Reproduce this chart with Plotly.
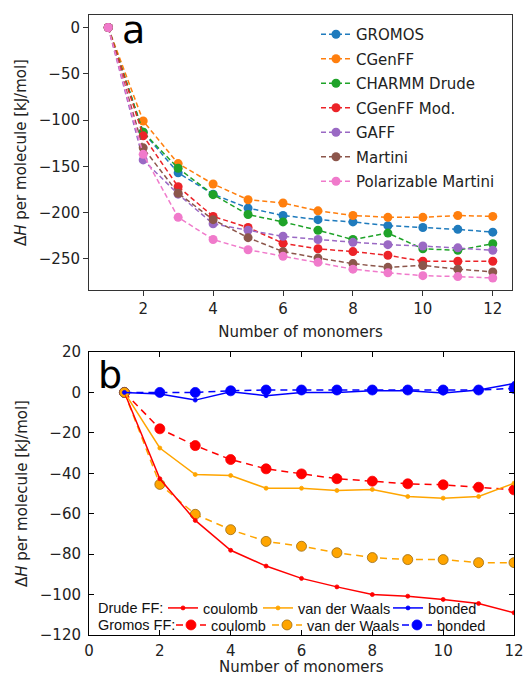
import plotly.graph_objects as go

# ---------------- data ----------------
monomers = list(range(1, 13))

# panel a : total Delta H per molecule [kJ/mol]
gromos      = [0, -113, -157, -180, -195, -203, -207.5, -210, -214, -216, -218, -221]
cgenff      = [0, -101, -147, -169, -186, -189.5, -198, -203, -205, -205, -203, -204]
charmm_drude = [0, -113, -152, -180.5, -202, -210, -219, -229, -222, -239, -240.6, -233.5]
cgenff_mod  = [0, -117, -172, -204, -216, -233, -239, -242, -246, -252.5, -252.5, -252.5]
gaff        = [0, -143, -180, -212, -219, -225.5, -229, -232, -234.5, -236, -238, -240.6]
martini     = [0, -130, -179, -207.5, -227, -242, -249, -255, -259, -257, -261, -264]
pol_martini = [0, -137, -205, -229, -240, -247, -253.6, -261, -265, -268, -269, -270.5]

names_a = ["GROMOS", "CGenFF", "CHARMM Drude", "CGenFF Mod.", "GAFF", "Martini", "Polarizable Martini"]
series_a = [gromos, cgenff, charmm_drude, cgenff_mod, gaff, martini, pol_martini]
colors_a = ["#1f7bbd", "#ff7f0e", "#1fa329", "#ec2328", "#9a69c4", "#8c564b", "#f07acb"]

# panel b : energy components
drude_coulomb  = [0, -42.7, -63.3, -78.1, -85.9, -92, -96.2, -100, -100.8, -102.4, -104.4, -109]
drude_vdw      = [0, -27.5, -40.6, -41.1, -47.4, -47.4, -48.5, -48, -51.5, -52.3, -51.5, -44.9]
drude_bonded   = [0, -0.8, -3.8, 0.3, -1.6, 0, 0, 0.8, 0.8, -0.3, 1.2, 4.4]
gromos_coulomb = [0, -18, -26.3, -33.2, -37.8, -40.3, -42.7, -43.9, -45.2, -45.7, -46.9, -48.2]
gromos_vdw     = [0, -45.5, -60.3, -67.9, -73.7, -76.1, -79.3, -81.7, -82.7, -82.7, -84.2, -84.2]
gromos_bonded  = [0, 0, 0, 0.8, 1.2, 1.2, 1.2, 1.2, 1.2, 1.2, 1.2, 2]

ticks_a_x = [2, 4, 6, 8, 10, 12]
ticks_a_y = [0, -50, -100, -150, -200, -250]
ticks_b_x = [0, 2, 4, 6, 8, 10, 12]
ticks_b_y = [20, 0, -20, -40, -60, -80, -100, -120]

W, H = 525, 677
FONT = "DejaVu Sans"

def px(x):
    return x / W

def py(y):
    return 1 - y / H

fig = go.Figure()

# ---------- panel a ----------
for i, (nm, ser, col) in enumerate(zip(names_a, series_a, colors_a)):
    fig.add_trace(go.Scatter(
        x=monomers, y=ser, name=nm, mode="lines+markers",
        line=dict(color=col, width=1.5, dash="5px,3px"),
        marker=dict(color=col, size=9),
        xaxis="x", yaxis="y", legend="legend", legendgroup="a%d" % i,
    ))

# ---------- panel b ----------
red, orange, blue = "#ff0000", "#ffa500", "#0000ff"
b_traces = [
    ("coulomb", gromos_coulomb, red, "dash", "legend5", 10, red),
    ("bonded", gromos_bonded, blue, "dash", "legend7", 10, blue),
    ("van der Waals", gromos_vdw, orange, "dash", "legend6", 10, "#9a6a10"),
    ("coulomb", drude_coulomb, red, "solid", "legend2", 4, red),
    ("van der Waals", drude_vdw, orange, "solid", "legend3", 4, orange),
    ("bonded", drude_bonded, blue, "solid", "legend4", 4, blue),
]
for nm, ser, col, dash, leg, msize, edge in b_traces:
    fig.add_trace(go.Scatter(
        x=monomers, y=ser, name=nm, mode="lines+markers",
        line=dict(color=col, width=1.5, dash=("7px,5px" if dash == "dash" else "solid")),
        marker=dict(color=col, size=msize, line=dict(color=edge, width=0.8)),
        xaxis="x2", yaxis="y2", legend=leg,
    ))

axis_font = dict(family=FONT, size=15, color="#222")
ytitle = "Δ<i>H</i> per molecule [kJ/mol]"
xtitle = "Number of monomers"

layout = dict(
    width=W, height=H, autosize=False,
    margin=dict(l=0, r=0, t=0, b=0, pad=0),
    paper_bgcolor="white", plot_bgcolor="white",
    font=dict(family=FONT, size=15, color="#222"),
    xaxis=dict(domain=[px(89), px(512)], range=[0.45, 12.55], anchor="y", automargin=False,
               tickvals=ticks_a_x, ticks="outside", ticklen=5, tickcolor="#333",
               showline=True, linecolor="#333", linewidth=1, mirror=True,
               showgrid=False, zeroline=False, tickfont=axis_font,
               title=dict(text=xtitle, font=axis_font, standoff=9)),
    yaxis=dict(domain=[py(290), py(15)], range=[-283.5, 13.5], anchor="x", automargin=False,
               tickvals=ticks_a_y, ticks="outside", ticklen=5, tickcolor="#333",
               showline=True, linecolor="#333", linewidth=1, mirror=True,
               showgrid=False, zeroline=False, tickfont=axis_font,
               title=dict(text=ytitle, font=axis_font, standoff=8)),
    xaxis2=dict(domain=[px(89), px(514)], range=[0, 12], anchor="y2", automargin=False,
                tickvals=ticks_b_x, ticks="inside", ticklen=5, tickcolor="black",
                showline=True, linecolor="black", linewidth=1, mirror="allticks",
                showgrid=False, zeroline=False, tickfont=axis_font,
                ticklabelstandoff=2),
    yaxis2=dict(domain=[py(635), py(352)], range=[-120, 20], anchor="x2", automargin=False,
                tickvals=ticks_b_y, ticks="inside", ticklen=5, tickcolor="black",
                showline=True, linecolor="black", linewidth=1, mirror="allticks",
                showgrid=False, zeroline=False, tickfont=axis_font,
                ticklabelstandoff=4,
                title=dict(text=ytitle, font=axis_font, standoff=8)),
    legend=dict(x=px(316), y=py(18), xanchor="left", yanchor="top",
                bgcolor="rgba(0,0,0,0)", borderwidth=0, tracegroupgap=2,
                font=dict(family=FONT, size=15, color="#222")),
)

leg_font = dict(family="Liberation Sans", size=14.5, color="#111")
# text start positions (px) of each legend entry in panel b
leg_pos = {
    "legend2": (203, 608), "legend3": (298, 608), "legend4": (428, 608),
    "legend5": (211, 625), "legend6": (307, 625), "legend7": (437, 625),
}
for k, (lx, ly) in leg_pos.items():
    layout[k] = dict(x=px(lx - 40), y=py(ly), xanchor="left", yanchor="middle",
                     bgcolor="rgba(0,0,0,0)", borderwidth=0, font=leg_font,
                     itemwidth=30)

fig.update_layout(**layout)

fig.add_annotation(x=px(120), y=py(54), xref="paper", yref="paper", text="a",
                   showarrow=False, xanchor="left", yanchor="bottom",
                   font=dict(family=FONT, size=38, color="black"))
fig.add_annotation(x=px(96), y=py(399), xref="paper", yref="paper", text="b",
                   showarrow=False, xanchor="left", yanchor="bottom",
                   font=dict(family=FONT, size=38, color="black"))
fig.add_annotation(x=px(96), y=py(608), xref="paper", yref="paper", text="Drude FF:",
                   showarrow=False, xanchor="left", yanchor="middle", font=leg_font)
fig.add_annotation(x=px(96), y=py(625), xref="paper", yref="paper", text="Gromos FF:",
                   showarrow=False, xanchor="left", yanchor="middle", font=leg_font)
# x-axis title of panel b (placed as annotation so it can sit near the page's bottom edge)
fig.add_annotation(x=px((89 + 514) / 2), y=py(667), xref="paper", yref="paper", text=xtitle,
                   showarrow=False, xanchor="center", yanchor="middle", font=axis_font)

fig.write_html("out.html", config={"displayModeBar": False},
               post_script="document.body.style.margin='0';document.body.style.overflow='hidden';")
